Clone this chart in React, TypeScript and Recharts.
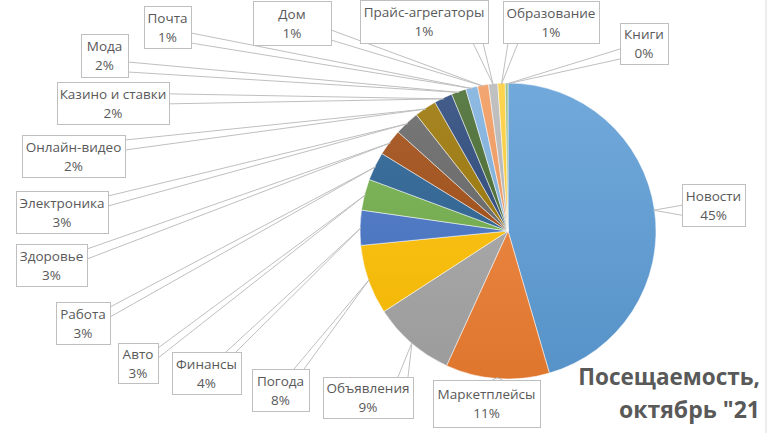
import React from 'react';
import { PieChart, Pie, Cell } from 'recharts';

const categories = [
  'Новости', 'Маркетплейсы', 'Объявления', 'Погода', 'Финансы', 'Авто', 'Работа',
  'Здоровье', 'Электроника', 'Онлайн-видео', 'Казино и ставки', 'Мода', 'Почта',
  'Дом', 'Прайс-агрегаторы', 'Образование', 'Книги',
];
const shares = [45.4, 11.3, 9.0, 7.6, 3.8, 3.4, 3.1, 2.9, 2.7, 2.4, 2.0, 1.6, 1.3, 1.2, 1.0, 0.8, 0.3];
const colors = [
  '#5B9BD5', '#ED7D31', '#A5A5A5', '#FFC000', '#4472C4', '#70AD47', '#255E91',
  '#9E480E', '#636363', '#997300', '#264478', '#43682B', '#7CAFDD', '#F1975A',
  '#B7B7B7', '#FFCD33', '#8FB97A',
];
const titleLines = ['Посещаемость,', 'октябрь "21'];

// label box layout [left, top, width, height], in slice order
const labelBoxes = [
  [682, 184, 63, 42], [433, 380, 107, 47], [323, 377, 90, 41], [252, 369, 57, 42],
  [172, 352, 69, 42], [118, 343, 40, 40], [56, 302, 54, 42], [16, 244, 71, 42],
  [16, 191, 92, 42], [22, 135, 103, 42], [57, 82, 112, 42], [81, 34, 47, 43],
  [144, 6, 47, 42], [253, 1, 78, 44], [360, 0, 128, 43], [503, 1, 96, 42],
  [620, 23, 48, 41],
];

const data = categories.map((name, i) => ({ name, value: shares[i] }));

const RAD = Math.PI / 180;
const clamp = (v: number, a: number, b: number) => Math.max(a, Math.min(b, v));

// mix a hex colour with white (t>0) or black (t<0)
const shade = (hex: string, t: number) => {
  const n = parseInt(hex.slice(1), 16);
  const ch = [(n >> 16) & 255, (n >> 8) & 255, n & 255].map((c) =>
    Math.round(t > 0 ? c + (255 - c) * t : c * (1 + t))
  );
  return `rgb(${ch.join(',')})`;
};

const renderLabel = (props: any) => {
  const { cx, cy, midAngle, outerRadius, percent, index, name } = props;
  const [x, y, w, h] = labelBoxes[index];
  const px = cx + (outerRadius - 1) * Math.cos(-midAngle * RAD);
  const py = cy + (outerRadius - 1) * Math.sin(-midAngle * RAD);
  const dx = Math.max(x - px, px - (x + w), 0);
  const dy = Math.max(y - py, py - (y + h), 0);
  let a: number[], b: number[];
  if (dx > dy) {
    const ex = px < x ? x : x + w;
    const m = clamp(py, y + 10, y + h - 10);
    a = [ex, m - 5];
    b = [ex, m + 5];
  } else {
    const ey = py < y ? y : y + h;
    const m = clamp(px, x + 10, x + w - 10);
    a = [m - 5, ey];
    b = [m + 5, ey];
  }
  const mx = x + w / 2;
  const my = y + h / 2;
  return (
    <g key={`lbl-${index}`}>
      <line x1={px} y1={py} x2={a[0]} y2={a[1]} stroke="#BFBFBF" strokeWidth={1} />
      <line x1={px} y1={py} x2={b[0]} y2={b[1]} stroke="#BFBFBF" strokeWidth={1} />
      <rect x={x + 0.5} y={y + 0.5} width={w} height={h} fill="#fff" stroke="#BFBFBF" strokeWidth={1} />
      <text x={mx} y={my - 9.5} textAnchor="middle" dominantBaseline="central" fill="#595959" fontSize={13.5}>
        {name}
      </text>
      <text x={mx} y={my + 9.5} textAnchor="middle" dominantBaseline="central" fill="#595959" fontSize={13.5}>
        {`${Math.round(percent * 100)}%`}
      </text>
    </g>
  );
};

const App: React.FC = () => {
  return (
    <div style={{ position: 'absolute', left: 0, top: 0, width: 767, height: 433, background: '#fff', fontFamily: '"Open Sans", sans-serif' }}>
      <PieChart width={767} height={433} margin={{ top: 0, right: 0, bottom: 0, left: 0 }}>
        <defs>
          {colors.map((c, i) => (
            <linearGradient key={`g-${i}`} id={`grad-${i}`} gradientUnits="userSpaceOnUse" x1={0} y1={83} x2={0} y2={379}>
              <stop offset="0%" stopColor={shade(c, 0.14)} />
              <stop offset="100%" stopColor={shade(c, -0.06)} />
            </linearGradient>
          ))}
          <filter id="pieShadow" x="-10%" y="-10%" width="120%" height="120%">
            <feDropShadow dx={0} dy={0} stdDeviation={2} floodColor="#000" floodOpacity={0.25} />
          </filter>
        </defs>
        <Pie
          data={data}
          dataKey="value"
          nameKey="name"
          cx={508}
          cy={231}
          outerRadius={148}
          startAngle={90}
          endAngle={-270}
          stroke="#fff"
          strokeWidth={0.5}
          label={renderLabel}
          labelLine={false}
          isAnimationActive={false}
        >
          {data.map((entry, i) => (
            <Cell key={`cell-${i}`} fill={`url(#grad-${i})`} />
          ))}
        </Pie>
        <text x={760} y={385} textAnchor="end" fill="#595959" fontSize={22.5} fontWeight="bold">
          {titleLines[0]}
        </text>
        <text x={760} y={418} textAnchor="end" fill="#595959" fontSize={23} fontWeight="bold">
          {titleLines[1]}
        </text>
        <line x1={766} y1={0} x2={766} y2={433} stroke="#D9D9D9" strokeWidth={1} />
      </PieChart>
    </div>
  );
};

export default App;
